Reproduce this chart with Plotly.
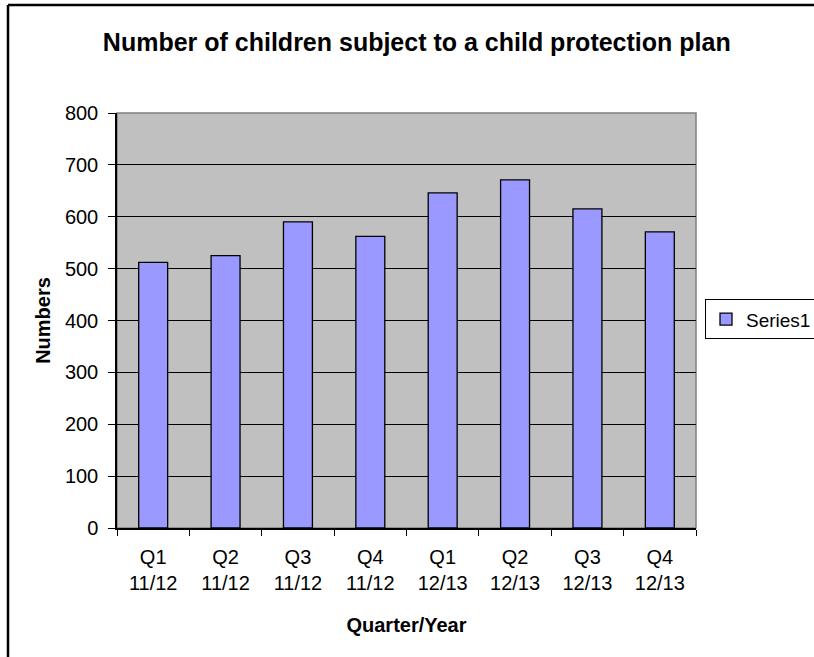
import plotly.graph_objects as go

quarters = ["Q1", "Q2", "Q3", "Q4", "Q1", "Q2", "Q3", "Q4"]
years = ["11/12", "11/12", "11/12", "11/12", "12/13", "12/13", "12/13", "12/13"]
values = [512, 525, 590, 562, 646, 671, 615, 571]
series_name = "Series1"
title_text = "Number of children subject to a child protection plan"
x_title = "Quarter/Year"
y_title = "Numbers"

cats = [f"{q} {y}" for q, y in zip(quarters, years)]
labels = [f"{q}<br>{y}" for q, y in zip(quarters, years)]

FONT = "Liberation Sans, Arial, sans-serif"

fig = go.Figure()
fig.add_trace(go.Bar(
    x=cats, y=values, name=series_name,
    marker=dict(color="#9999FF", line=dict(color="black", width=1.3)),
    showlegend=True,
))

fig.update_layout(
    width=814, height=657,
    margin=dict(l=117, r=118, t=113, b=129, autoexpand=False),
    paper_bgcolor="white",
    plot_bgcolor="#C0C0C0",
    bargap=0.6,
    font=dict(family=FONT, size=20, color="black"),
    title=dict(text=f"<b>{title_text}</b>", x=0.512, xanchor="center",
               y=0.935, yanchor="middle", font=dict(size=25)),
    legend=dict(x=(705 - 117) / 579, y=0.503, xanchor="left", yanchor="middle",
                bordercolor="black", borderwidth=1, bgcolor="white",
                font=dict(size=19), itemwidth=30),
    xaxis=dict(
        tickmode="array", tickvals=cats, ticktext=labels,
        tickson="boundaries", ticks="outside", ticklen=6, tickcolor="black",
        showline=True, linecolor="black", linewidth=1.5, mirror=False,
        showgrid=False, ticklabelstandoff=10,
        title=dict(text=f"<b>{x_title}</b>", font=dict(size=20), standoff=25),
    ),
    yaxis=dict(
        range=[0, 800], tickvals=list(range(0, 801, 100)),
        ticks="outside", ticklen=7, tickcolor="black",
        showline=True, linecolor="black", linewidth=1.5,
        showgrid=True, gridcolor="black", gridwidth=1,
        ticklabelstandoff=6,
        title=dict(text=f"<b>{y_title}</b>", font=dict(size=20), standoff=9),
        zeroline=False,
    ),
)

# gray plot-area frame on top and right
fig.add_shape(type="rect", xref="paper", yref="paper", x0=0, y0=0, x1=1, y1=1,
              line=dict(color="#808080", width=1.5), layer="below")

# chart border (left and top visible; cropped elsewhere)
fig.add_shape(type="line", xref="paper", yref="paper",
              x0=(8 - 117) / 579, x1=1.3, y0=(528 - 5) / 415, y1=(528 - 5) / 415,
              line=dict(color="black", width=2.5))
fig.add_shape(type="line", xref="paper", yref="paper",
              x0=(8 - 117) / 579, x1=(8 - 117) / 579, y0=(528 - 5) / 415, y1=-0.5,
              line=dict(color="black", width=2.5))

fig.write_html("out.html")
